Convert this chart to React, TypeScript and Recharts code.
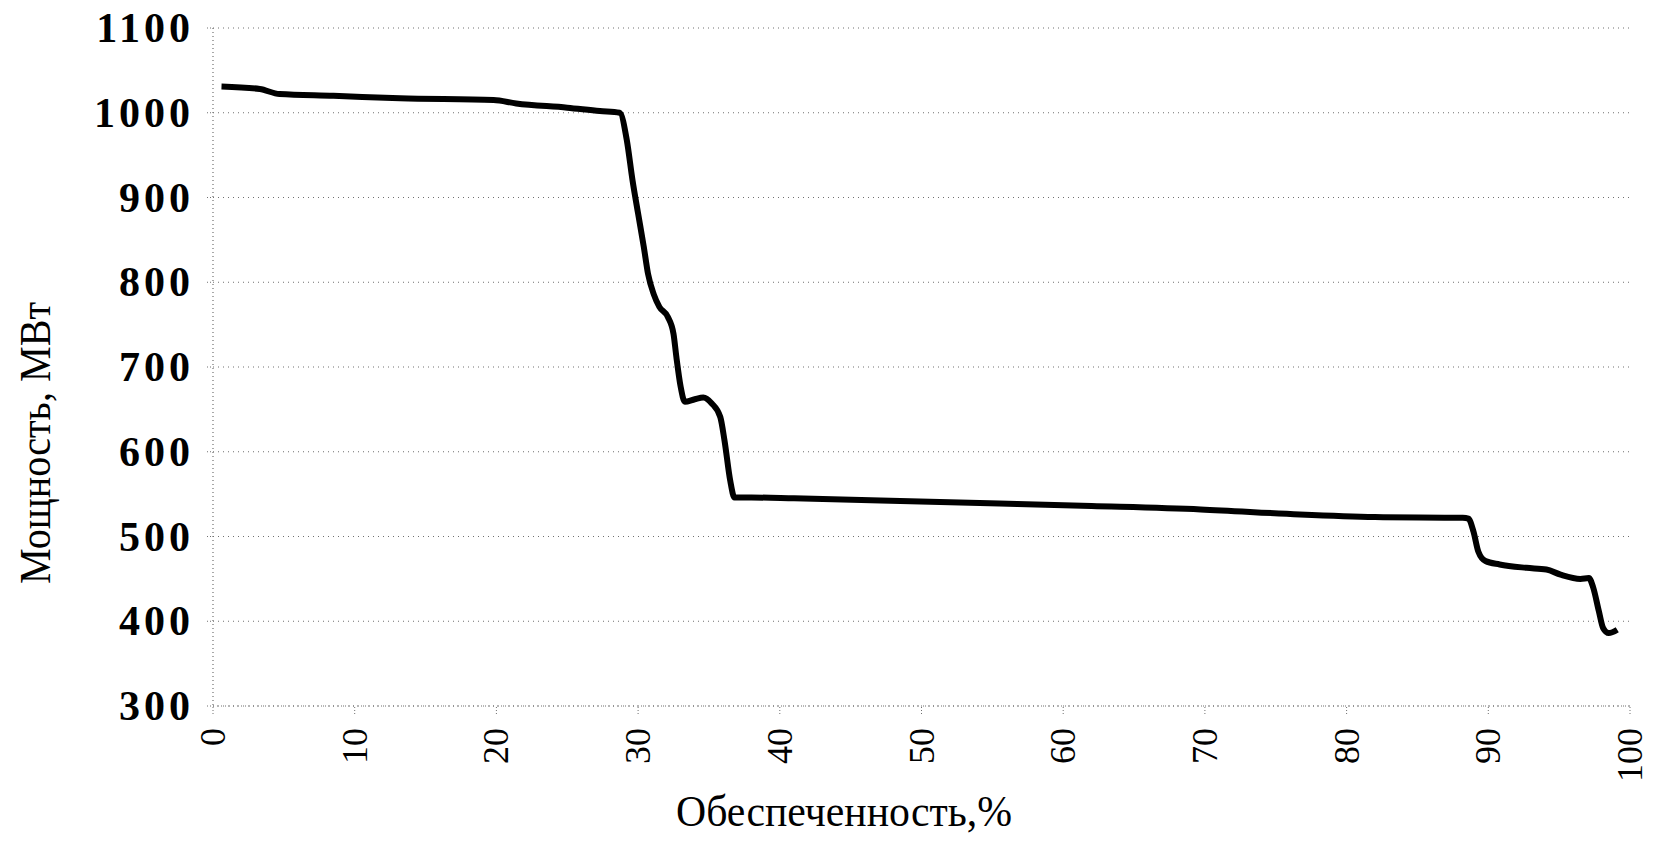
import { CartesianGrid, Line, LineChart, XAxis, YAxis } from 'recharts';

// Обеспеченность, % (x) and Мощность, МВт (y)
const supply = [
  0.6, 3.3, 4.7, 8.5, 13.2, 19.8, 21.4, 25, 27.3, 28.7, 29.2, 29.6, 30.0, 30.4, 30.7, 31.1, 31.5,
  32.1, 32.5, 32.7, 33.0, 33.3, 34.0, 34.6, 35.2, 35.8, 36.1, 36.5, 36.8, 38, 41, 48.5, 55.5, 62,
  69.7, 76.7, 82, 88.2, 88.6, 88.95, 89.3, 89.8, 90.8, 92.7, 94.1, 95.1, 96.5, 97.1, 97.4, 97.8,
  98.1, 98.5, 99.1,
];
const power = [
  1031, 1028, 1022, 1020, 1017, 1015, 1011, 1006, 1002, 1000, 968, 921, 881, 842, 810, 786, 771,
  759, 739, 712, 677, 659, 662, 664, 657, 641, 613, 566, 546, 546, 545, 542, 539, 536, 532, 526,
  523, 522, 521, 506, 482, 471, 467, 463, 461, 455, 450, 451, 440, 412, 392, 386, 390,
];

const xTicks = [0, 10, 20, 30, 40, 50, 60, 70, 80, 90, 100];
const yTicks = [300, 400, 500, 600, 700, 800, 900, 1000, 1100];

const xTitle = 'Обеспеченность,%';
const yTitle = 'Мощность, МВт';

const data = supply.map((s, i) => ({ s, p: power[i] }));

const FONT = '"Liberation Serif", "Times New Roman", serif';
const DOTS = '#707070';

function YTick(props: any) {
  const { x, y, payload } = props;
  return (
    <text
      x={x + 4}
      y={y}
      textAnchor="end"
      dominantBaseline="central"
      fontFamily={FONT}
      fontWeight="bold"
      fontSize={42}
      letterSpacing={4}
      fill="#000"
    >
      {payload.value}
    </text>
  );
}

function XTick(props: any) {
  const { x, y, payload } = props;
  return (
    <text
      x={x}
      y={y}
      transform={`rotate(-90, ${x}, ${y})`}
      textAnchor="end"
      dominantBaseline="central"
      fontFamily={FONT}
      fontSize={36}
      fill="#000"
    >
      {payload.value}
    </text>
  );
}

export default function App() {
  return (
    <div
      style={{
        position: 'absolute',
        left: 0,
        top: 0,
        width: 1654,
        height: 843,
        background: '#fff',
      }}
    >
      <LineChart
        width={1654}
        height={843}
        data={data}
        margin={{ top: 28, right: 24, bottom: 0, left: 0 }}
      >
        <CartesianGrid
          vertical={false}
          stroke={DOTS}
          strokeDasharray="1 4"
          strokeWidth={1.2}
        />
        <XAxis
          type="number"
          dataKey="s"
          domain={[0, 100]}
          ticks={xTicks}
          height={137}
          tickSize={8}
          tickMargin={14}
          axisLine={{ stroke: DOTS, strokeDasharray: '1 3', strokeWidth: 1.2 }}
          tickLine={{ stroke: DOTS, strokeDasharray: '1 2' }}
          tick={<XTick />}
          interval={0}
        />
        <YAxis
          type="number"
          domain={[300, 1100]}
          ticks={yTicks}
          width={213}
          tickSize={6}
          tickMargin={17}
          axisLine={{ stroke: DOTS, strokeDasharray: '1 3', strokeWidth: 1.2 }}
          tickLine={{ stroke: DOTS, strokeDasharray: '1 2' }}
          tick={<YTick />}
          interval={0}
        />
        <Line
          type="monotone"
          dataKey="p"
          stroke="#000"
          strokeWidth={6}
          dot={false}
          isAnimationActive={false}
        />
      </LineChart>
      <svg
        width={1654}
        height={843}
        style={{ position: 'absolute', left: 0, top: 0, pointerEvents: 'none' }}
      >
        <text
          x={844}
          y={826}
          textAnchor="middle"
          fontFamily={FONT}
          fontSize={44}
          textLength={336}
          lengthAdjust="spacingAndGlyphs"
          fill="#000"
        >
          {xTitle}
        </text>
        <text
          x={50}
          y={443}
          transform="rotate(-90, 50, 443)"
          textAnchor="middle"
          fontFamily={FONT}
          fontSize={44}
          textLength={282}
          lengthAdjust="spacingAndGlyphs"
          fill="#000"
        >
          {yTitle}
        </text>
      </svg>
    </div>
  );
}
